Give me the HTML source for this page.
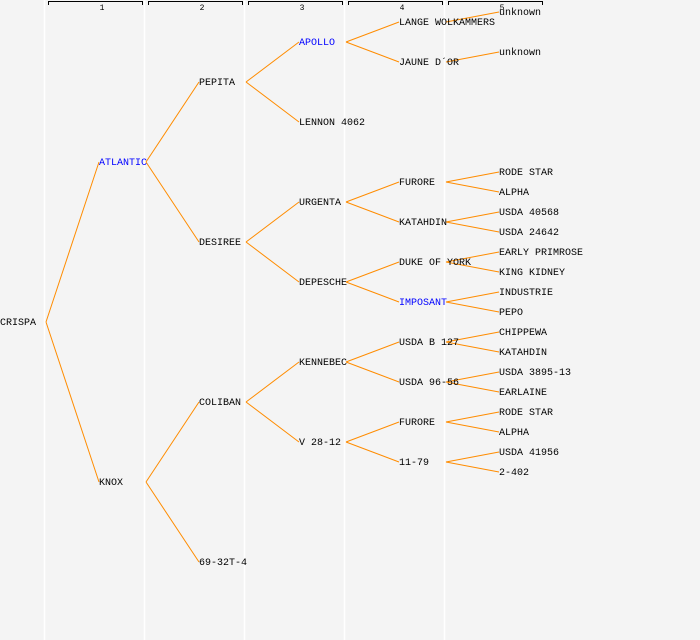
<!DOCTYPE html>
<html><head><meta charset="utf-8"><style>
html,body{margin:0;padding:0;background:#f4f4f4;}
svg{display:block;}
text{font-family:"Liberation Mono","DejaVu Sans Mono",monospace;font-size:10px;fill:#000;}
.b{fill:#0000ff;}
.n{font-size:8px;}
</style></head><body>
<svg width="700" height="640" xmlns="http://www.w3.org/2000/svg">
<rect width="700" height="640" fill="#f4f4f4"/>
<g stroke="#ffffff" stroke-width="1.5">
<line x1="44.5" y1="0" x2="44.5" y2="640"/><line x1="144.5" y1="0" x2="144.5" y2="640"/>
<line x1="244.5" y1="0" x2="244.5" y2="640"/><line x1="344.5" y1="0" x2="344.5" y2="640"/>
<line x1="444.5" y1="0" x2="444.5" y2="640"/>
</g>
<g stroke="#000" stroke-width="1" fill="none">
<path d="M48.5 5V1.5H142.5V5"/><path d="M148.5 5V1.5H242.5V5"/><path d="M248.5 5V1.5H342.5V5"/>
<path d="M348.5 5V1.5H442.5V5"/><path d="M448.5 5V1.5H542.5V5"/>
</g>
<g text-anchor="middle"><text class="n" x="102" y="10">1</text><text class="n" x="202" y="10">2</text><text class="n" x="302" y="10">3</text><text class="n" x="402" y="10">4</text><text class="n" x="502" y="10">5</text></g>
<g stroke="#ff8c00" stroke-width="1" fill="none">
<path d="M46 322L99 162M46 322L99 482"/>
<path d="M146 162L199 82M146 162L199 242M146 482L199 402M146 482L199 562"/>
<path d="M246 82L299 42M246 82L299 122M246 242L299 202M246 242L299 282M246 402L299 362M246 402L299 442"/>
<path d="M346 42L399 22M346 42L399 62M346 202L399 182M346 202L399 222M346 282L399 262M346 282L399 302M346 362L399 342M346 362L399 382M346 442L399 422M346 442L399 462"/>
<path d="M446 22L499 12M446 62L499 52M446 182L499 172M446 182L499 192M446 222L499 212M446 222L499 232M446 262L499 252M446 262L499 272M446 302L499 292M446 302L499 312M446 342L499 332M446 342L499 352M446 382L499 372M446 382L499 392M446 422L499 412M446 422L499 432M446 462L499 452M446 462L499 472"/>
</g>
<g transform="translate(0,-1)">
<text x="0" y="326">CRISPA</text>
<text class="b" x="99" y="166">ATLANTIC</text><text x="99" y="486">KNOX</text>
<text x="199" y="86">PEPITA</text><text x="199" y="246">DESIREE</text><text x="199" y="406">COLIBAN</text><text x="199" y="566">69-32T-4</text>
<text class="b" x="299" y="46">APOLLO</text><text x="299" y="126">LENNON 4062</text><text x="299" y="206">URGENTA</text><text x="299" y="286">DEPESCHE</text><text x="299" y="366">KENNEBEC</text><text x="299" y="446">V 28-12</text>
<text x="399" y="26">LANGE WOLKAMMERS</text><text x="399" y="66">JAUNE D´OR</text><text x="399" y="186">FURORE</text><text x="399" y="226">KATAHDIN</text><text x="399" y="266">DUKE OF YORK</text><text class="b" x="399" y="306">IMPOSANT</text><text x="399" y="346">USDA B 127</text><text x="399" y="386">USDA 96-56</text><text x="399" y="426">FURORE</text><text x="399" y="466">11-79</text>
<text x="499" y="16">unknown</text><text x="499" y="56">unknown</text>
<text x="499" y="176">RODE STAR</text><text x="499" y="196">ALPHA</text><text x="499" y="216">USDA 40568</text><text x="499" y="236">USDA 24642</text>
<text x="499" y="256">EARLY PRIMROSE</text><text x="499" y="276">KING KIDNEY</text><text x="499" y="296">INDUSTRIE</text><text x="499" y="316">PEPO</text>
<text x="499" y="336">CHIPPEWA</text><text x="499" y="356">KATAHDIN</text><text x="499" y="376">USDA 3895-13</text><text x="499" y="396">EARLAINE</text>
<text x="499" y="416">RODE STAR</text><text x="499" y="436">ALPHA</text><text x="499" y="456">USDA 41956</text><text x="499" y="476">2-402</text>
</g>
</svg>
</body></html>
